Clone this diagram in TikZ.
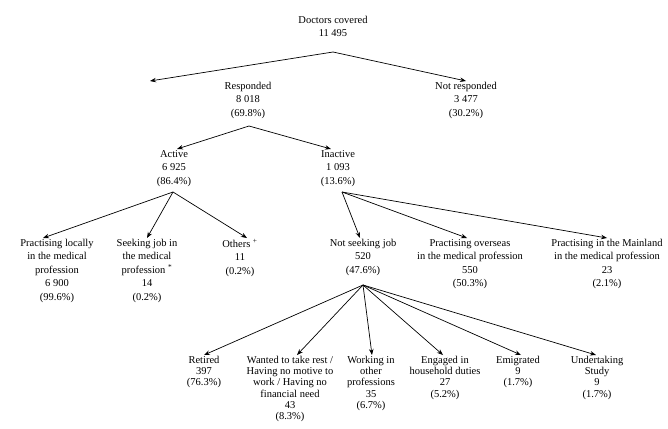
\documentclass[tikz,border=0pt]{standalone}
\usepackage{fontspec}
\setmainfont{Liberation Serif}
\usetikzlibrary{arrows.meta}
\begin{document}
\begin{tikzpicture}[x=1pt,y=-1pt,
  box/.style={align=center,anchor=north,inner sep=1pt,font=\fontsize{10.5}{13.5}\selectfont},
  tight/.style={font=\fontsize{10.5}{11.2}\selectfont},
  arr/.style={-{Stealth[length=6pt,width=4.5pt]},line width=0.7pt}]
\useasboundingbox (0,0) rectangle (668,428);
\node[box] (doc) at (333,15) {Doctors covered\\11 495};
\node[box] (resp) at (248,81) {Responded\\8 018\\(69.8\%)};
\node[box] (nresp) at (466,81) {Not responded\\3 477\\(30.2\%)};
\node[box] (act) at (174,149) {Active\\6 925\\(86.4\%)};
\node[box] (inact) at (338,149) {Inactive\\1 093\\(13.6\%)};
\node[box] (pl) at (57,238) {Practising locally\\in the medical\\profession\\6 900\\(99.6\%)};
\node[box] (sj) at (147,238) {Seeking job in\\the medical\\profession \textsuperscript{*}\\14\\(0.2\%)};
\node[box] (oth) at (240,238) {Others \textsuperscript{+}\\11\\(0.2\%)};
\node[box] (ns) at (363,238) {Not seeking job\\520\\(47.6\%)};
\node[box] (po) at (470,238) {Practising overseas\\in the medical profession\\550\\(50.3\%)};
\node[box] (pm) at (607,238) {Practising in the Mainland\\in the medical profession\\23\\(2.1\%)};
\node[box,tight] (ret) at (204,355) {Retired\\397\\(76.3\%)};
\node[box,tight] (wr) at (290,355) {Wanted to take rest /\\Having no motive to\\work / Having no\\financial need\\43\\(8.3\%)};
\node[box,tight] (wo) at (371,355) {Working in\\other\\professions\\35\\(6.7\%)};
\node[box,tight] (eh) at (445,355) {Engaged in\\household duties\\27\\(5.2\%)};
\node[box,tight] (em) at (518,355) {Emigrated\\9\\(1.7\%)};
\node[box,tight] (us) at (597,355) {Undertaking\\Study\\9\\(1.7\%)};
\coordinate (a0) at (333,52);
\coordinate (a1) at (249,126);
\coordinate (a2) at (173,192);
\coordinate (a3) at (342,192);
\coordinate (a4) at (363,285);
\draw[arr] (a0) -- ([xshift=-98pt]resp.north);
\draw[arr] (a0) -- (nresp.north);
\draw[arr] (a1) -- ([xshift=3pt]act.north);
\draw[arr] (a1) -- ([xshift=-7pt]inact.north);
\draw[arr] (a2) -- ([xshift=-14pt]pl.north);
\draw[arr] (a2) -- (sj.north);
\draw[arr] (a2) -- ([xshift=7pt]oth.north);
\draw[arr] (a3) -- ([xshift=-3pt]ns.north);
\draw[arr] (a3) -- ([xshift=-3pt]po.north);
\draw[arr] (a3) -- (pm.north);
\foreach \t/\d in {ret/0,wr/7,wo/1,eh/-2,em/3,us/-1} \draw[arr] (a4) -- ([xshift=\d pt]\t.north);
\end{tikzpicture}
\end{document}
